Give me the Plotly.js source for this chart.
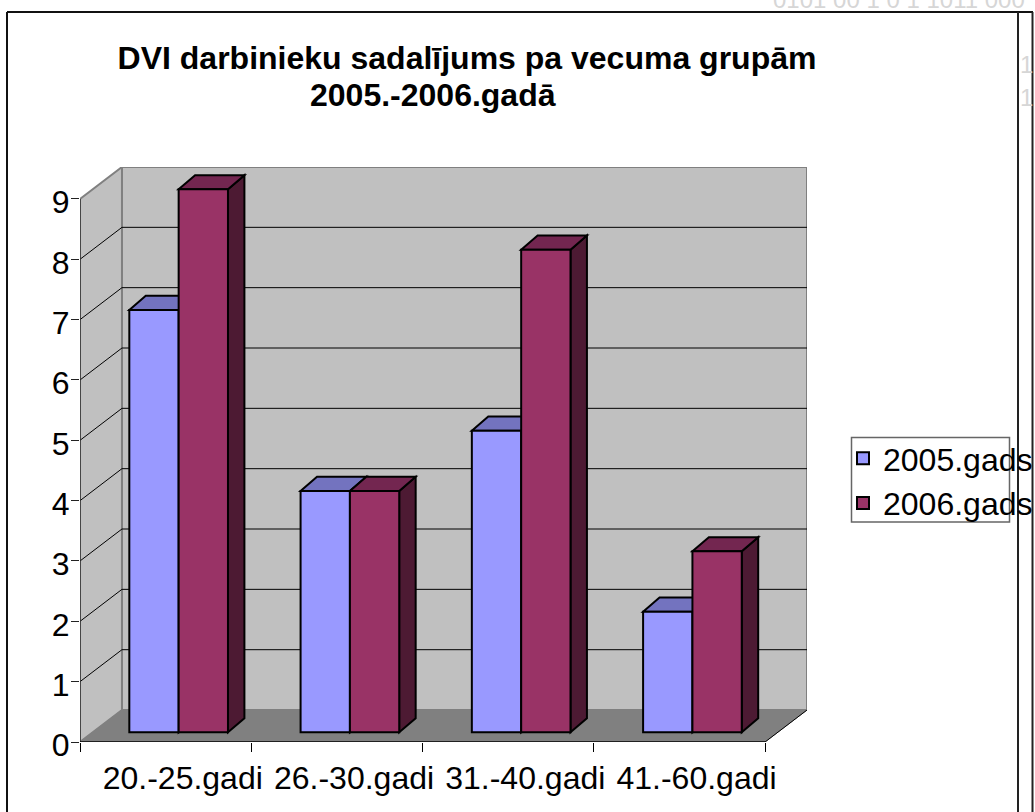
<!DOCTYPE html>
<html>
<head>
<meta charset="utf-8">
<script src="https://cdn.plot.ly/plotly-3.0.1.min.js"></script>
<style>html,body{margin:0;padding:0;background:#fff;overflow:hidden}</style>
</head>
<body>
<div id="chart" style="width:1035px;height:812px"></div>
<script>
const categories = ["20.-25.gadi", "26.-30.gadi", "31.-40.gadi", "41.-60.gadi"];
const series2005 = [7, 4, 5, 2];
const series2006 = [9, 4, 8, 3];
const yTicks = [0, 1, 2, 3, 4, 5, 6, 7, 8, 9];

const FONT = '"Liberation Sans", Arial, sans-serif';
// pixel box of the plot area
const L = 80, R = 807, T = 167, B = 742;
const pxX = p => (p - L) / (R - L);
const pxY = p => (B - p) / (B - T);

// 3D projection in data units
const wallDX = 0.245, wallDY = 0.53, maxY = 9;
const barDX = 0.076, barDY = 0.16, barW = 0.288, depthX = 0.096, depthY = 0.235;

const poly = pts => 'M' + pts.map(p => p[0] + ' ' + p[1]).join(' L') + ' Z';
const dataShape = (pts, fill, color, width) => ({
  type: 'path', xref: 'x', yref: 'y', layer: 'below', path: poly(pts),
  fillcolor: fill, line: {color: color, width: width}
});
const pxLine = (x0, y0, x1, y1, color, width) => ({
  type: 'line', xref: 'paper', yref: 'paper', layer: 'below',
  x0: pxX(x0), y0: pxY(y0), x1: pxX(x1), y1: pxY(y1), line: {color: color, width: width}
});

const n = categories.length;
const shapes = [];
// outer frame
shapes.push(pxLine(7, 12, 1033, 12, '#111', 2));
shapes.push(pxLine(7, 12, 7, 812, '#111', 2));
shapes.push(pxLine(1018, 12, 1018, 812, '#222', 2));
shapes.push(pxLine(1032.5, 12, 1032.5, 812, '#222', 2));
// walls and floor
shapes.push(dataShape([[wallDX, wallDY], [n + wallDX, wallDY], [n + wallDX, maxY + wallDY], [wallDX, maxY + wallDY]], '#c0c0c0', '#808080', 2));
shapes.push(dataShape([[0, 0], [wallDX, wallDY], [wallDX, maxY + wallDY], [0, maxY]], '#c0c0c0', '#808080', 2));
shapes.push(dataShape([[0, 0], [n, 0], [n + wallDX, wallDY], [wallDX, wallDY]], '#808080', '#808080', 1));
// gridlines on walls
yTicks.slice(1, -1).forEach(v => {
  shapes.push({type:'line', xref:'x', yref:'y', layer:'below', x0:0, y0:v, x1:wallDX, y1:v+wallDY, line:{color:'#000', width:1}});
  shapes.push({type:'line', xref:'x', yref:'y', layer:'below', x0:wallDX, y0:v+wallDY, x1:n+wallDX, y1:v+wallDY, line:{color:'#000', width:1}});
});
// axis lines
shapes.push({type:'line', xref:'x', yref:'y', layer:'below', x0:0, y0:0, x1:0, y1:maxY, line:{color:'#333', width:1.5}});
shapes.push({type:'line', xref:'x', yref:'y', layer:'below', x0:0, y0:0, x1:n, y1:0, line:{color:'#000', width:1.5}});
shapes.push({type:'line', xref:'x', yref:'y', layer:'below', x0:n, y0:0, x1:n+wallDX, y1:wallDY, line:{color:'#000', width:1}});

// bar side and top faces
function faces(values, off, topColor, sideColor) {
  values.forEach((v, i) => {
    const x0 = i + 0.5 + barDX + off, x1 = x0 + barW, b = barDY, t = barDY + v;
    shapes.push(dataShape([[x1, b], [x1 + depthX, b + depthY], [x1 + depthX, t + depthY], [x1, t]], sideColor, '#000', 2));
    shapes.push(dataShape([[x0, t], [x1, t], [x1 + depthX, t + depthY], [x0 + depthX, t + depthY]], topColor, '#000', 2));
  });
}
faces(series2005, -barW, '#7373bf', '#4d4d80');
faces(series2006, 0, '#732650', '#4d1a33');

// legend box
shapes.push({type:'rect', xref:'paper', yref:'paper', layer:'below',
  x0:pxX(851.5), x1:pxX(1009.5), y0:pxY(522), y1:pxY(437.5),
  fillcolor:'#fff', line:{color:'#666', width:1.5}});

const barX = categories.map((c, i) => i + 0.5 + barDX);
const traces = [
  {type:'bar', name:'2005.gads', x:barX, y:series2005, base:barDY, width:barW, offset:-barW,
   marker:{color:'#9999ff', line:{color:'#000', width:2}}, hoverinfo:'skip'},
  {type:'bar', name:'2006.gads', x:barX, y:series2006, base:barDY, width:barW, offset:0,
   marker:{color:'#993366', line:{color:'#000', width:2}}, hoverinfo:'skip'}
];

const layout = {
  width: 1035, height: 812,
  margin: {l: L, r: 1035 - R, t: T, b: 812 - B, pad: 0, autoexpand: false},
  paper_bgcolor: '#fff', plot_bgcolor: 'rgba(0,0,0,0)',
  font: {family: FONT, size: 32, color: '#000'},
  barmode: 'overlay',
  title: {
    text: 'DVI darbinieku sadalījums pa vecuma grupām',
    font: {family: FONT, size: 32, weight: 700, color: '#000'},
    x: 467 / 1035, xref: 'container', xanchor: 'center',
    y: 1 - 58 / 812, yref: 'container', yanchor: 'middle'
  },
  xaxis: {
    range: [0, n + wallDX], showgrid: false, zeroline: false, showline: false, fixedrange: true,
    tickmode: 'array', tickvals: categories.map((c, i) => i + 0.6), ticktext: categories,
    ticks: '', tickfont: {family: FONT, size: 32, color: '#000'},
    ticklabelstandoff: 14,
    minor: {tickmode: 'array', tickvals: [0, 1, 2, 3, 4], ticks: 'outside', ticklen: 9, tickwidth: 1, tickcolor: '#000', showgrid: false}
  },
  yaxis: {
    range: [0, maxY + wallDY], showgrid: false, zeroline: false, showline: false, fixedrange: true,
    tickmode: 'array', tickvals: yTicks, ticks: 'outside', ticklen: 8, tickwidth: 1, tickcolor: '#222',
    ticklabelshift: 3, ticklabelstandoff: -5,
    tickfont: {family: FONT, size: 32, color: '#000'}
  },
  legend: {
    x: pxX(843), xanchor: 'left', y: pxY(431), yanchor: 'top',
    bgcolor: 'rgba(0,0,0,0)', borderwidth: 0, traceorder: 'normal',
    font: {family: FONT, size: 32, color: '#000'}, itemwidth: 30, tracegroupgap: 0
  },
  shapes: shapes,
  annotations: [
    {text:'2005.-2006.gadā', xref:'paper', yref:'paper', x:pxX(432.5), xanchor:'center', y:pxY(95), yanchor:'middle', showarrow:false, font:{family:FONT, size:32, weight:700, color:'#000'}},
    {text:'0101 00 1 0 1 1011 000', xref:'paper', yref:'paper', x:pxX(771), xanchor:'left', y:pxY(-1), yanchor:'middle', showarrow:false, font:{family:FONT, size:24, color:'#d6d6d6'}},
    {text:'1', xref:'paper', yref:'paper', x:pxX(1026), xanchor:'center', y:pxY(65), yanchor:'middle', showarrow:false, font:{family:FONT, size:24, color:'#d6d6d6'}},
    {text:'1', xref:'paper', yref:'paper', x:pxX(1026), xanchor:'center', y:pxY(97), yanchor:'middle', showarrow:false, font:{family:FONT, size:24, color:'#d6d6d6'}}
  ]
};
Plotly.newPlot('chart', traces, layout, {displayModeBar: false, staticPlot: true});
</script>
</body>
</html>
